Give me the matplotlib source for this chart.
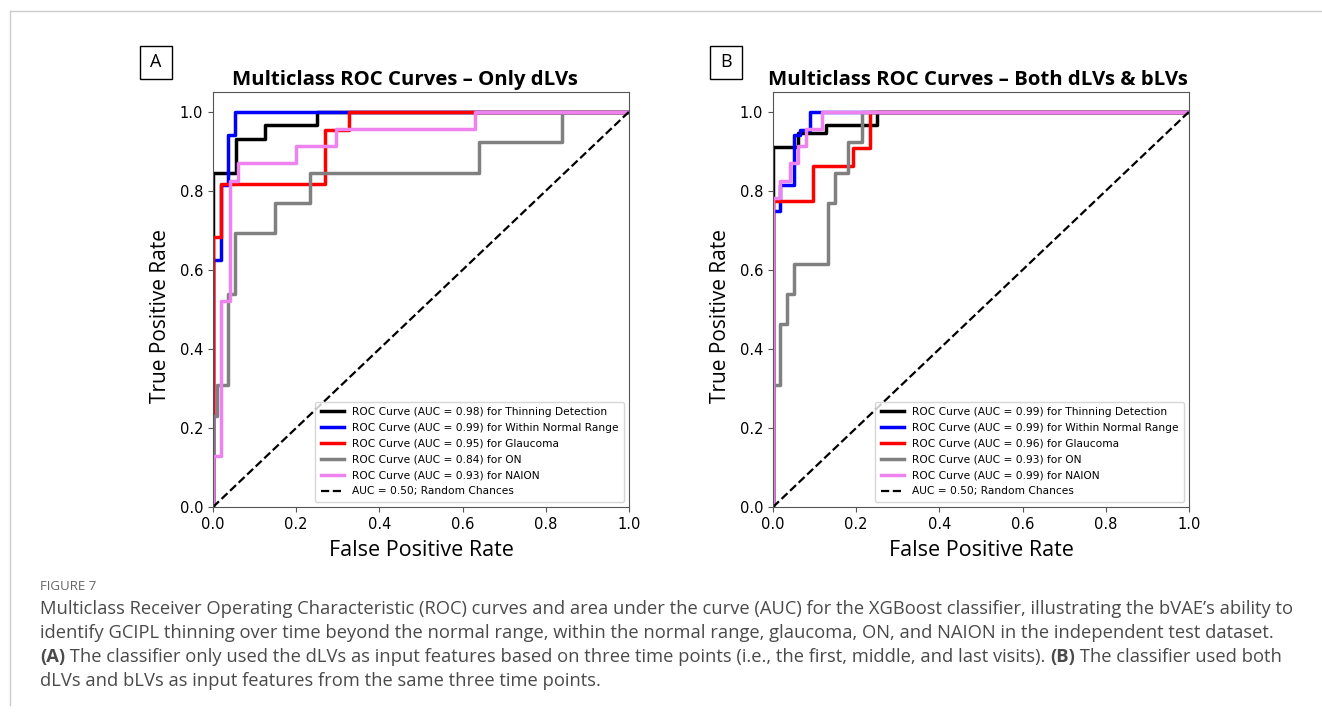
import numpy as np
import matplotlib
matplotlib.use('Agg')
import matplotlib.pyplot as plt
from matplotlib.patches import Rectangle
from matplotlib.lines import Line2D

# ROC step curves (fpr, tpr)
classes = ["Thinning Detection", "Within Normal Range", "Glaucoma", "ON", "NAION"]
colors = ["black", "blue", "red", "gray", "violet"]

# panel A: only dLVs
auc_a = [0.98, 0.99, 0.95, 0.84, 0.93]
fpr_a = [
    [0, 0, 0.055, 0.055, 0.125, 0.125, 0.25, 0.25, 1],
    [0, 0, 0.02, 0.02, 0.037, 0.037, 0.053, 0.053, 1],
    [0, 0, 0.02, 0.02, 0.27, 0.27, 0.327, 0.327, 1],
    [0, 0, 0.01, 0.01, 0.036, 0.036, 0.052, 0.052, 0.15, 0.15, 0.232, 0.232, 0.64, 0.64, 0.838, 0.838, 1],
    [0, 0, 0.02, 0.02, 0.04, 0.04, 0.06, 0.06, 0.2, 0.2, 0.295, 0.295, 0.63, 0.63, 1],
]
tpr_a = [
    [0, 0.846, 0.846, 0.931, 0.931, 0.966, 0.966, 1, 1],
    [0, 0.625, 0.625, 0.815, 0.815, 0.94, 0.94, 1, 1],
    [0, 0.682, 0.682, 0.818, 0.818, 0.955, 0.955, 1, 1],
    [0, 0.231, 0.231, 0.308, 0.308, 0.538, 0.538, 0.692, 0.692, 0.769, 0.769, 0.846, 0.846, 0.923, 0.923, 1, 1],
    [0, 0.13, 0.13, 0.522, 0.522, 0.826, 0.826, 0.87, 0.87, 0.913, 0.913, 0.957, 0.957, 1, 1],
]

# panel B: both dLVs & bLVs
auc_b = [0.99, 0.99, 0.96, 0.93, 0.99]
fpr_b = [
    [0, 0, 0.06, 0.06, 0.127, 0.127, 0.25, 0.25, 1],
    [0, 0, 0.016, 0.016, 0.05, 0.05, 0.065, 0.065, 0.088, 0.088, 1],
    [0, 0, 0.097, 0.097, 0.192, 0.192, 0.233, 0.233, 1],
    [0, 0, 0.016, 0.016, 0.033, 0.033, 0.05, 0.05, 0.133, 0.133, 0.15, 0.15, 0.18, 0.18, 0.213, 0.213, 1],
    [0, 0, 0.017, 0.017, 0.04, 0.04, 0.061, 0.061, 0.08, 0.08, 0.117, 0.117, 1],
]
tpr_b = [
    [0, 0.912, 0.912, 0.946, 0.946, 0.966, 0.966, 1, 1],
    [0, 0.75, 0.75, 0.815, 0.815, 0.94, 0.94, 0.955, 0.955, 1, 1],
    [0, 0.773, 0.773, 0.864, 0.864, 0.909, 0.909, 1, 1],
    [0, 0.308, 0.308, 0.462, 0.462, 0.538, 0.538, 0.615, 0.615, 0.769, 0.769, 0.846, 0.846, 0.923, 0.923, 1, 1],
    [0, 0.783, 0.783, 0.826, 0.826, 0.87, 0.87, 0.913, 0.913, 0.957, 0.957, 1, 1],
]

ticks = [0.0, 0.2, 0.4, 0.6, 0.8, 1.0]

W, H = 1322, 713
fig = plt.figure(figsize=(W / 100, H / 100), dpi=100)

# card border (top + left)
fig.add_artist(Line2D([10 / W, 1], [1 - 11 / H, 1 - 11 / H], color='#cccccc', lw=1))
fig.add_artist(Line2D([10 / W, 10 / W], [1 - 11 / H, 8 / H], color='#cccccc', lw=1))


def draw_panel(left_px, letter, letter_x, title, title_x, fpr, tpr, aucs):
    ax = fig.add_axes([left_px / W, (H - 507) / H, 416 / W, 415 / H])
    for f, t, c, name, a in zip(fpr, tpr, colors, classes, aucs):
        ax.plot(f, t, color=c, lw=2.5,
                label='ROC Curve (AUC = %.2f) for %s' % (a, name))
    ax.plot([0, 1], [0, 1], 'k--', lw=1.6, label='AUC = 0.50; Random Chances')
    ax.set_xlim(0, 1)
    ax.set_ylim(0, 1.05)
    ax.set_xticks(ticks)
    ax.set_yticks(ticks)
    ax.tick_params(labelsize=10.5, color='#555555')
    for s in ax.spines.values():
        s.set_color('#555555')
    ax.set_xlabel('False Positive Rate', fontsize=15.5, family='Open Sans', labelpad=6)
    ax.set_ylabel('True Positive Rate', fontsize=15, family='Open Sans', labelpad=5)
    ax.yaxis.set_label_coords(-0.10, 0.46)
    ax.set_title(title, fontsize=14.7, fontweight='bold', family='Open Sans',
                 pad=5, x=title_x)
    ax.legend(loc='lower right', fontsize=7.7, handlelength=2.2, handletextpad=0.7,
              frameon=True, borderpad=0.5, labelspacing=0.55)
    # panel letter box
    fig.add_artist(Rectangle((letter_x / W, 1 - 79 / H), 32 / W, 33 / H,
                             transform=fig.transFigure, fill=False,
                             edgecolor='black', lw=1))
    fig.text((letter_x + 16) / W, 1 - 62 / H, letter, ha='center', va='center',
             fontsize=13, family='Open Sans')
    return ax


draw_panel(213, 'A', 140, 'Multiclass ROC Curves \u2013 Only dLVs', 0.4615,
           fpr_a, tpr_a, auc_a)
draw_panel(773, 'B', 710, 'Multiclass ROC Curves \u2013 Both dLVs & bLVs', 0.493,
           fpr_b, tpr_b, auc_b)

# caption
cap_color = '#4a4a4a'
cap_size = 13.2
fig.text(40 / W, 1 - 586 / H, 'FIGURE 7', fontsize=9.5, family='Open Sans',
         color='#666666', va='center')

cap_lines = [
    [("Multiclass Receiver Operating Characteristic (ROC) curves and area under the curve (AUC) for the XGBoost classifier, illustrating the bVAE\u2019s ability to", 'normal')],
    [("identify GCIPL thinning over time beyond the normal range, within the normal range, glaucoma, ON, and NAION in the independent test dataset.", 'normal')],
    [("(A)", 'bold'),
     (" The classifier only used the dLVs as input features based on three time points (i.e., the first, middle, and last visits). ", 'normal'),
     ("(B)", 'bold'), (" The classifier used both", 'normal')],
    [("dLVs and bLVs as input features from the same three time points.", 'normal')],
]
y0 = 609
for i, parts in enumerate(cap_lines):
    y = 1 - (y0 + i * 24) / H
    prev = None
    for txt, wt in parts:
        if prev is None:
            prev = fig.text(40 / W, y, txt, fontsize=cap_size, family='Open Sans',
                            fontweight=wt, color=cap_color, va='center')
        else:
            prev = fig.axes[0].annotate(txt, xy=(1, 0), xycoords=prev, va='bottom',
                                        ha='left', fontsize=cap_size, family='Open Sans',
                                        fontweight=wt, color=cap_color,
                                        annotation_clip=False)

fig.savefig('out.png', dpi=100)
